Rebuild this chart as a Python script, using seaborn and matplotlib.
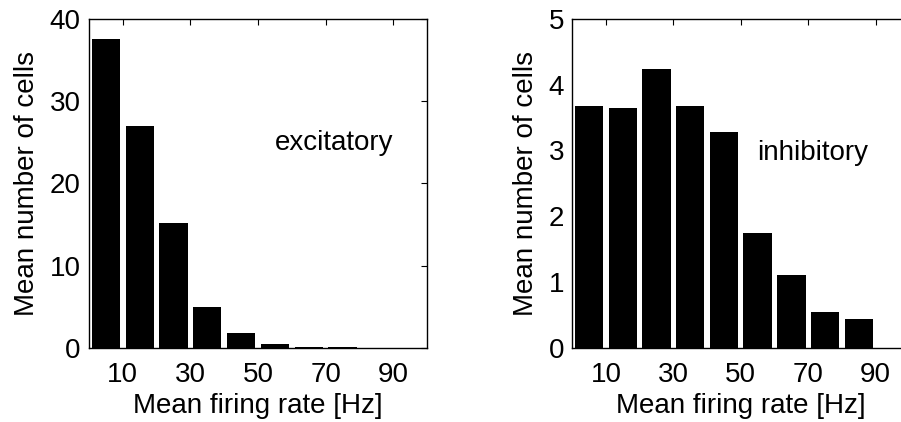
import matplotlib
matplotlib.use("Agg")
import matplotlib.pyplot as plt
import seaborn as sns
import pandas as pd

sns.set_theme(style="white")
plt.rcParams['font.family'] = ['Liberation Sans', 'DejaVu Sans']

rate_centers = [5, 15, 25, 35, 45, 55, 65, 75, 85, 95]
excitatory = [37.6, 27.0, 15.2, 5.0, 1.75, 0.4, 0.05, 0.03, 0.02, 0.0]
inhibitory = [3.68, 3.64, 4.24, 3.68, 3.28, 1.74, 1.11, 0.54, 0.44, 0.0]
x_ticks = [10, 30, 50, 70, 90]
exc_yticks = [0, 10, 20, 30, 40]
inh_yticks = [0, 1, 2, 3, 4, 5]

FS = 20

fig = plt.figure(figsize=(9.01, 4.22), dpi=100)
ax1 = fig.add_axes([89/901, 74.3/422, 338/901, 328.7/422])
ax2 = fig.add_axes([572.3/901, 74.3/422, 337/901, 328.7/422])

df_e = pd.DataFrame({"rate": rate_centers, "count": excitatory})
df_i = pd.DataFrame({"rate": rate_centers, "count": inhibitory})

for ax, df, yt, label, tx, ty in [
    (ax1, df_e, exc_yticks, "excitatory", 72.6, 24.9),
    (ax2, df_i, inh_yticks, "inhibitory", 71.4, 2.96),
]:
    sns.barplot(data=df, x="rate", y="count", native_scale=True, color="black",
                width=0.84, linewidth=0, saturation=1, ax=ax)
    ax.set_xlim(0, 100)
    ax.set_ylim(yt[0], yt[-1])
    ax.set_xticks(x_ticks)
    ax.set_xticklabels([str(v) for v in x_ticks])
    ax.set_yticks(yt)
    ax.set_yticklabels([str(v) for v in yt])
    ax.tick_params(direction="in", top=True, right=True, length=4, width=0.8,
                   labelsize=FS, colors="black")
    ax.tick_params(axis="x", pad=10)
    ax.tick_params(axis="y", pad=6)
    for s in ax.spines.values():
        s.set_visible(True)
        s.set_color("black")
        s.set_linewidth(1.0)
    ax.set_xlabel("Mean firing rate [Hz]", fontsize=FS, color="black", labelpad=4)
    ax.set_ylabel("Mean number of cells", fontsize=FS, color="black", labelpad=7)
    ax.text(tx, ty, label, fontsize=FS, ha="center", va="center", color="black")

fig.savefig("out.png", dpi=100)
